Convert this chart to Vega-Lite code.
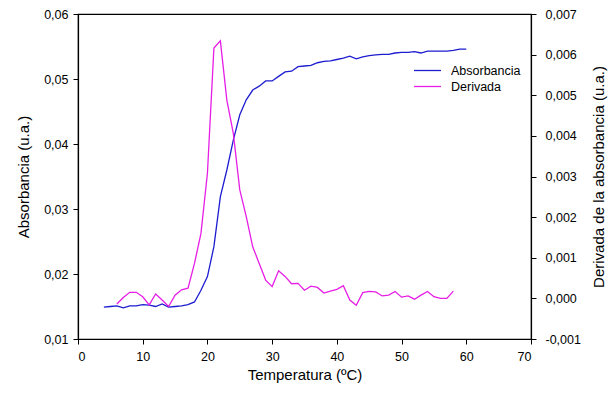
{
  "$schema": "https://vega.github.io/schema/vega-lite/v6.json",
  "width": 453,
  "height": 325,
  "autosize": "none",
  "padding": {"left": 78, "top": 14, "right": 82, "bottom": 57},
  "background": "white",
  "config": {
    "font": "Liberation Sans",
    "view": {"stroke": "black", "strokeWidth": 1.2},
    "axis": {
      "grid": false,
      "domainColor": "black",
      "tickColor": "black",
      "labelColor": "black",
      "titleColor": "black",
      "labelFont": "Liberation Sans",
      "titleFont": "Liberation Sans",
      "labelFontSize": 12.5,
      "titleFontSize": 15,
      "titleFontWeight": "normal",
      "tickSize": 5,
      "domainWidth": 1.2,
      "tickWidth": 1
    }
  },
  "data": {
    "values": [
      {"T": 4, "A": 0.0149, "D": null},
      {"T": 5, "A": 0.0150, "D": null},
      {"T": 6, "A": 0.0151, "D": -0.00014},
      {"T": 7, "A": 0.0148, "D": 0.00002},
      {"T": 8, "A": 0.0151, "D": 0.00015},
      {"T": 9, "A": 0.0151, "D": 0.00015},
      {"T": 10, "A": 0.0153, "D": 0.00004},
      {"T": 11, "A": 0.0152, "D": -0.00016},
      {"T": 12, "A": 0.0150, "D": 0.00011},
      {"T": 13, "A": 0.0154, "D": -0.00004},
      {"T": 14, "A": 0.0149, "D": -0.00020},
      {"T": 15, "A": 0.0150, "D": 0.00008},
      {"T": 16, "A": 0.0151, "D": 0.00021},
      {"T": 17, "A": 0.0153, "D": 0.00025},
      {"T": 18, "A": 0.0157, "D": 0.00086},
      {"T": 19, "A": 0.0175, "D": 0.00160},
      {"T": 20, "A": 0.0196, "D": 0.00308},
      {"T": 21, "A": 0.0242, "D": 0.00616},
      {"T": 22, "A": 0.0319, "D": 0.00634},
      {"T": 23, "A": 0.0360, "D": 0.00488},
      {"T": 24, "A": 0.0406, "D": 0.00406},
      {"T": 25, "A": 0.0445, "D": 0.00267},
      {"T": 26, "A": 0.0468, "D": 0.00201},
      {"T": 27, "A": 0.0483, "D": 0.00127},
      {"T": 28, "A": 0.0489, "D": 0.00086},
      {"T": 29, "A": 0.0497, "D": 0.00045},
      {"T": 30, "A": 0.0497, "D": 0.00029},
      {"T": 31, "A": 0.0504, "D": 0.00068},
      {"T": 32, "A": 0.0511, "D": 0.00054},
      {"T": 33, "A": 0.0512, "D": 0.00036},
      {"T": 34, "A": 0.0519, "D": 0.00037},
      {"T": 35, "A": 0.0520, "D": 0.00020},
      {"T": 36, "A": 0.0521, "D": 0.00030},
      {"T": 37, "A": 0.0525, "D": 0.00027},
      {"T": 38, "A": 0.0527, "D": 0.00013},
      {"T": 39, "A": 0.0528, "D": 0.00018},
      {"T": 40, "A": 0.0530, "D": 0.00022},
      {"T": 41, "A": 0.0532, "D": 0.00031},
      {"T": 42, "A": 0.0535, "D": -0.00004},
      {"T": 43, "A": 0.0531, "D": -0.00017},
      {"T": 44, "A": 0.0534, "D": 0.00014},
      {"T": 45, "A": 0.0536, "D": 0.00017},
      {"T": 46, "A": 0.0537, "D": 0.00016},
      {"T": 47, "A": 0.0538, "D": 0.00006},
      {"T": 48, "A": 0.0538, "D": 0.00008},
      {"T": 49, "A": 0.0540, "D": 0.00017},
      {"T": 50, "A": 0.0541, "D": 0.00003},
      {"T": 51, "A": 0.0541, "D": 0.00006},
      {"T": 52, "A": 0.0542, "D": -0.00002},
      {"T": 53, "A": 0.0540, "D": 0.00008},
      {"T": 54, "A": 0.0543, "D": 0.00017},
      {"T": 55, "A": 0.0543, "D": 0.00004},
      {"T": 56, "A": 0.0543, "D": 0.00000},
      {"T": 57, "A": 0.0543, "D": 0.00000},
      {"T": 58, "A": 0.0544, "D": 0.00018},
      {"T": 59, "A": 0.0546, "D": null},
      {"T": 60, "A": 0.0546, "D": null}
    ]
  },
  "encoding": {
    "x": {
      "field": "T",
      "type": "quantitative",
      "scale": {"domain": [0, 70], "nice": false, "zero": false},
      "axis": {
        "title": "Temperatura (ºC)",
        "values": [0, 10, 20, 30, 40, 50, 60, 70],
        "labelPadding": 6,
        "titlePadding": 5
      }
    },
    "color": {
      "scale": {"domain": ["Absorbancia", "Derivada"], "range": ["#1c1cd0", "#e61ee6"]},
      "legend": {
        "title": null,
        "orient": "none",
        "legendX": 342,
        "legendY": 49,
        "symbolType": "M-2,0L2,0",
        "symbolSize": 182,
        "symbolStrokeWidth": 1.3,
        "labelFontSize": 12.5,
        "labelFont": "Liberation Sans",
        "labelColor": "black",
        "rowPadding": 2,
        "labelOffset": 16
      }
    }
  },
  "layer": [
    {
      "mark": {"type": "line", "strokeWidth": 1.3},
      "encoding": {
        "y": {
          "field": "A",
          "type": "quantitative",
          "scale": {"domain": [0.01, 0.06], "nice": false, "zero": false},
          "axis": {
            "orient": "left",
            "title": "Absorbancia (u.a.)",
            "values": [0.01, 0.02, 0.03, 0.04, 0.05, 0.06],
            "labelExpr": "replace(format(datum.value, '.2f'), '.', ',')",
            "labelPadding": 5,
            "titlePadding": 12
          }
        },
        "color": {"datum": "Absorbancia"}
      }
    },
    {
      "mark": {"type": "line", "strokeWidth": 1.3},
      "encoding": {
        "y": {
          "field": "D",
          "type": "quantitative",
          "scale": {"domain": [-0.001, 0.007], "nice": false, "zero": false},
          "axis": {
            "orient": "right",
            "title": "Derivada de la absorbancia (u.a.)",
            "titleAngle": -90,
            "titleBaseline": "top",
            "values": [-0.001, 0, 0.001, 0.002, 0.003, 0.004, 0.005, 0.006, 0.007],
            "labelExpr": "replace(replace(format(datum.value, '.3f'), '.', ','), '\u2212', '-')",
            "labelPadding": 9,
            "titlePadding": 11
          }
        },
        "color": {"datum": "Derivada"}
      }
    }
  ],
  "resolve": {"scale": {"y": "independent"}}
}
